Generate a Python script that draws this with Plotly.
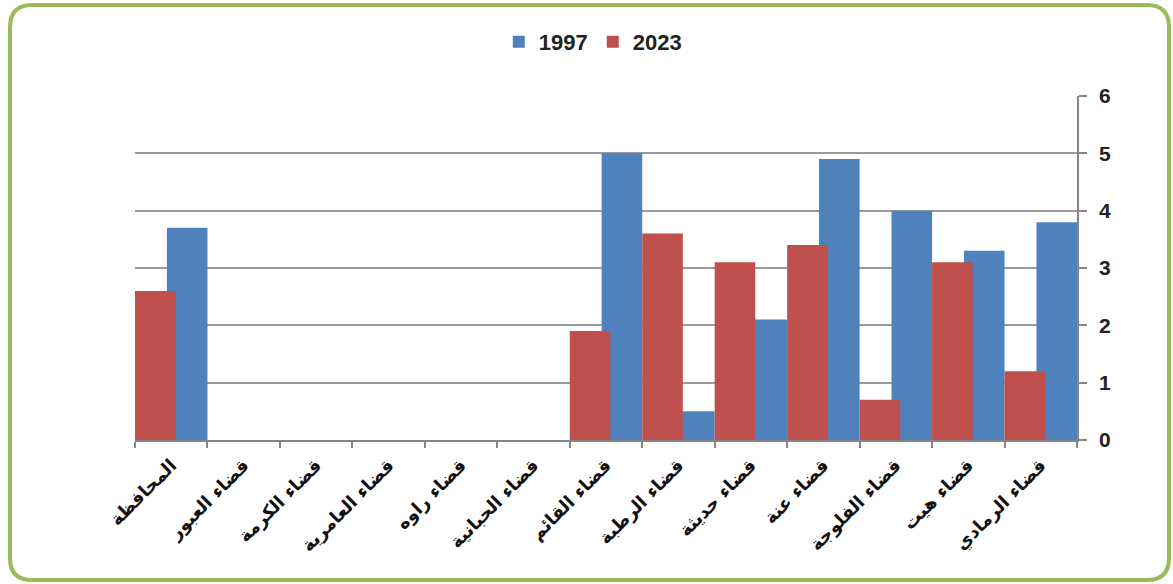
import plotly.graph_objects as go

categories = ["المحافظة", "قضاء العبور", "قضاء الكرمة", "قضاء العامرية", "قضاء راوه",
              "قضاء الحبانية", "قضاء القائم", "قضاء الرطبة", "قضاء حديثة", "قضاء عنة",
              "قضاء الفلوجة", "قضاء هيت", "قضاء الرمادي"]
values_1997 = [3.7, 0, 0, 0, 0, 0, 5.0, 0.5, 2.1, 4.9, 4.0, 3.3, 3.8]
values_2023 = [2.6, 0, 0, 0, 0, 0, 1.9, 3.6, 3.1, 3.4, 0.7, 3.1, 1.2]
y_ticks = [0, 1, 2, 3, 4, 5, 6]

W, H = 1173, 584
L, R, T, B = 135, 1077, 96, 440

fig = go.Figure()
fig.add_trace(go.Bar(x=categories, y=values_1997, name="1997",
                     marker=dict(color="#4F81BD", line=dict(width=0)),
                     offset=-0.06, width=0.56))
fig.add_trace(go.Bar(x=categories, y=values_2023, name="2023",
                     marker=dict(color="#C0504D", line=dict(width=0)),
                     offset=-0.5, width=0.56))

def px(xp):
    return (xp - L) / (R - L)

def py(yp):
    return (B - yp) / (B - T)

# rounded green border
x0, x1, y0, y1, r = 10, 1169, 5, 580, 22
path = (f"M {px(x0 + r)},{py(y0)} L {px(x1 - r)},{py(y0)} "
        f"Q {px(x1)},{py(y0)} {px(x1)},{py(y0 + r)} "
        f"L {px(x1)},{py(y1 - r)} Q {px(x1)},{py(y1)} {px(x1 - r)},{py(y1)} "
        f"L {px(x0 + r)},{py(y1)} Q {px(x0)},{py(y1)} {px(x0)},{py(y1 - r)} "
        f"L {px(x0)},{py(y0 + r)} Q {px(x0)},{py(y0)} {px(x0 + r)},{py(y0)} Z")

fig.update_layout(
    width=W, height=H,
    margin=dict(l=L, r=W - R, t=T, b=H - B),
    paper_bgcolor="white", plot_bgcolor="white",
    barmode="overlay",
    showlegend=True,
    legend=dict(orientation="h", x=0.486, xanchor="center", y=1.157, yanchor="middle",
                font=dict(family="Liberation Sans, Arial", size=22, color="#222222", weight="bold"),
                itemsizing="constant", traceorder="normal", itemwidth=30),
    shapes=[dict(type="path", path=path, xref="paper", yref="paper",
                 line=dict(color="#9BBB59", width=4), fillcolor="rgba(0,0,0,0)", layer="above")],
    xaxis=dict(type="category", tickson="boundaries",
               ticks="outside", ticklen=6, tickcolor="#868686", tickwidth=1.5,
               showline=True, linecolor="#868686", linewidth=1.5,
               showgrid=False, tickangle=-45, ticklabelstandoff=6,
               tickfont=dict(family="DejaVu Sans", size=18, color="#111111", weight="bold")),
    yaxis=dict(side="right", range=[0, 6], tickvals=y_ticks,
               showgrid=True, gridcolor="#9A9A9A", gridwidth=1.5,
               showline=True, linecolor="#868686", linewidth=1.5,
               ticks="outside", ticklen=8, tickcolor="#868686", tickwidth=1.5,
               zeroline=False, ticklabelstandoff=8,
               tickfont=dict(family="Liberation Sans, Arial", size=21, color="#222222", weight="bold")),
)

fig.write_html("out.html", post_script="document.body.style.margin='0';",
               config={"displayModeBar": False})
